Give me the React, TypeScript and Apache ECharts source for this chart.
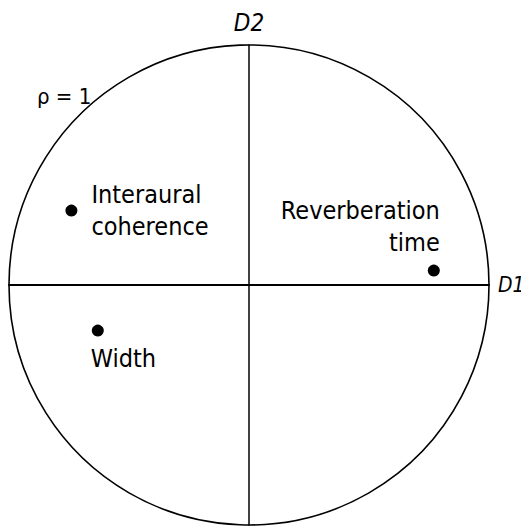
import React, { useEffect, useRef } from "react";
import * as echarts from "echarts";

// Variables projected on the first two dimensions (D1, D2)
const names = ["Interaural\ncoherence", "Reverberation\ntime", "Width"];
const d1 = [-0.74, 0.77, -0.63];
const d2 = [0.31, 0.06, -0.19];
const circleRadius = [1];

const FONT = "'DejaVu Sans Condensed', 'DejaVu Sans', sans-serif";
const INK = "#000";

export default function App() {
  const ref = useRef<HTMLDivElement>(null);

  useEffect(() => {
    if (!ref.current) return;
    const chart = echarts.init(ref.current, null, { renderer: "svg" });

    const labelBase = {
      show: true,
      color: INK,
      fontFamily: FONT,
      fontSize: 25,
      lineHeight: 32,
    };

    const points = names.map((n, i) => {
      let label: any;
      if (i === 0) {
        label = { ...labelBase, position: "right", distance: 14, align: "left" };
      } else if (i === 1) {
        label = { ...labelBase, position: "top", distance: 6, align: "right", offset: [6, 0] };
      } else {
        label = { ...labelBase, position: "bottom", distance: 6, align: "left", offset: [-7, 0] };
      }
      return { name: n, value: [d1[i], d2[i]], label: { ...label, formatter: n } };
    });

    chart.setOption({
      animation: false,
      backgroundColor: "#fff",
      grid: { left: 1, top: 37, width: 480, height: 480, outerBoundsMode: "none", containLabel: false },
      xAxis: {
        type: "value",
        min: -1,
        max: 1,
        name: "D1",
        nameLocation: "end",
        nameGap: 9,
        nameTextStyle: { fontFamily: FONT, fontSize: 21, fontStyle: "italic", color: INK },
        axisLine: { show: true, onZero: true, lineStyle: { color: INK, width: 2 } },
        axisTick: { show: false },
        axisLabel: { show: false },
        splitLine: { show: false },
      },
      yAxis: {
        type: "value",
        min: -1,
        max: 1,
        name: "D2",
        nameLocation: "end",
        nameGap: 10,
        nameTextStyle: { fontFamily: FONT, fontSize: 24, fontStyle: "italic", color: INK, align: "center" },
        axisLine: { show: true, onZero: true, lineStyle: { color: INK, width: 1.5 } },
        axisTick: { show: false },
        axisLabel: { show: false },
        splitLine: { show: false },
      },
      graphic: [
        {
          type: "text",
          left: 29,
          top: 77,
          style: { text: "ρ = 1", fontFamily: FONT, fontSize: 22, fill: INK },
        },
      ],
      series: [
        {
          // unit correlation circle
          type: "custom",
          data: circleRadius.map((r) => [0, 0, r]),
          silent: true,
          renderItem: (params: any, api: any) => {
            const c = api.coord([api.value(0), api.value(1)]);
            const s = api.size([api.value(2), api.value(2)]);
            return {
              type: "circle",
              shape: { cx: c[0], cy: c[1], r: s[0] },
              style: { fill: "none", stroke: INK, lineWidth: 1.6 },
            };
          },
          z: 1,
        },
        {
          type: "scatter",
          symbol: "circle",
          symbolSize: 12,
          itemStyle: { color: INK, opacity: 1 },
          data: points,
          z: 3,
        },
      ],
    });

    return () => chart.dispose();
  }, []);

  return <div ref={ref} style={{ width: 521, height: 519 }} />;
}
